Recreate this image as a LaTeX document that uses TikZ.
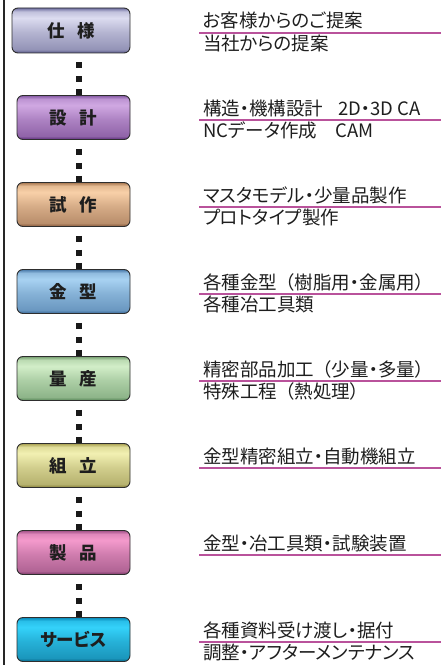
\documentclass[tikz,border=0pt]{standalone}
\usepackage{fontspec}
\setmainfont{Noto Sans CJK JP}[RawFeature=+palt]
\definecolor{ink}{HTML}{1E1E1E}
\definecolor{ulc}{HTML}{B9529B}
\definecolor{bord}{HTML}{2E2E2E}
\newcommand\mkshade[4]{\definecolor{#1t}{HTML}{#2}\definecolor{#1l}{HTML}{#3}\definecolor{#1d}{HTML}{#4}%
 \colorlet{#1a}{#1d!55!#1l}\colorlet{#1m}{#1l!70!#1d}\colorlet{#1b}{#1l!75!#1t}%
 \pgfdeclareverticalshading{#1}{100bp}{color(0bp)=(#1d); color(25bp)=(#1d); color(29bp)=(#1a); color(48bp)=(#1m); color(64bp)=(#1l); color(71bp)=(#1b); color(75bp)=(#1t); color(100bp)=(#1t)}}
\mkshade{shA}{6E6EA0}{DCDCF0}{585888}
\mkshade{shB}{8558A4}{D0A8E2}{5C2C7A}
\mkshade{shC}{A87850}{F8D0A8}{86583A}
\mkshade{shD}{4878A8}{A8D2F2}{386898}
\mkshade{shE}{76A070}{D2EEC8}{568656}
\mkshade{shF}{A8A050}{F2F0B2}{868038}
\mkshade{shG}{A05088}{F49ACC}{7A3868}
\mkshade{shH}{0888B8}{34D2FA}{06668A}
\newcommand\opp{\kern.45em（}
\tikzset{
 stepbox/.style={draw=bord, line width=0.9pt, rounded corners=6pt, minimum height=44pt, minimum width=113pt, inner sep=0pt, font=\fontsize{17.5}{19}\selectfont\bfseries, text=ink},
 dotline/.style={line width=6pt, draw=black!90, dash pattern=on 0pt off 9pt on 6pt off 8pt on 6pt off 7pt on 20pt},
 desc/.style={anchor=base west, inner sep=0pt, font=\fontsize{18.5}{20}\selectfont, text=ink},
 ul/.style={draw=ulc, line width=1.3pt},
 edgeline/.style={line width=2.2pt, draw=black!85}
}
\begin{document}
\begin{tikzpicture}[x=1pt,y=-1pt]
\useasboundingbox (0,0) rectangle (446,669);
\coordinate (lt) at (4,0);
\coordinate (lb) at (4,665);
\coordinate (dx) at (79,0);
\draw[edgeline] (lt) -- (lb);
% boxes
\node[stepbox, shading=shA, minimum width=118pt, minimum height=45pt] (b1) at (71,30.5) {仕\hspace{.7em}様};
\node[stepbox, shading=shB] (b2) at (73.5,117.5) {設\hspace{.7em}計};
\node[stepbox, shading=shC] (b3) at (73.5,204.5) {試\hspace{.7em}作};
\node[stepbox, shading=shD] (b4) at (73.5,291.5) {金\hspace{.7em}型};
\node[stepbox, shading=shE] (b5) at (73.5,378.5) {量\hspace{.7em}産};
\node[stepbox, shading=shF] (b6) at (73.5,465.5) {組\hspace{.7em}立};
\node[stepbox, shading=shG] (b7) at (73.5,552.5) {製\hspace{.7em}品};
\node[stepbox, shading=shH] (b8) at (73.5,639.5) {サービス};
% dotted connectors
\draw[dotline] (b1.south -| dx) -- (b2.north -| dx);
\draw[dotline] (b2.south -| dx) -- (b3.north -| dx);
\draw[dotline] (b3.south -| dx) -- (b4.north -| dx);
\draw[dotline] (b4.south -| dx) -- (b5.north -| dx);
\draw[dotline] (b5.south -| dx) -- (b6.north -| dx);
\draw[dotline] (b6.south -| dx) -- (b7.north -| dx);
\draw[dotline] (b7.south -| dx) -- (b8.north -| dx);
% underlines
\draw[ul] (199,33) -- (441,33);
\draw[ul] (199,120) -- (441,120);
\draw[ul] (199,207) -- (441,207);
\draw[ul] (199,294) -- (441,294);
\draw[ul] (199,381) -- (441,381);
\draw[ul] (199,468) -- (441,468);
\draw[ul] (199,555) -- (441,555);
\draw[ul] (199,642) -- (441,642);
% texts
\node[desc] (t1a) at (203,28) {お客様からのご提案};
\node[desc] (t1b) at (203,50.5) {当社からの提案};
\node[desc] (t2a) at (203,115) {構造・機構設計\hspace{0.8em}2D・3D CA};
\node[desc] (t2b) at (203,137.5) {NCデータ作成\hspace{1em}CAM};
\node[desc] (t3a) at (203,202) {マスタモデル・少量品製作};
\node[desc] (t3b) at (203,224.5) {プロトタイプ製作};
\node[desc] (t4a) at (203,289) {各種金型\opp 樹脂用・金属用）};
\node[desc] (t4b) at (203,311.5) {各種冶工具類};
\node[desc] (t5a) at (203,376) {精密部品加工\opp 少量・多量）};
\node[desc] (t5b) at (203,398.5) {特殊工程\opp 熱処理）};
\node[desc] (t6a) at (203,463) {金型精密組立・自動機組立};
\node[desc] (t7a) at (203,550) {金型・冶工具類・試験装置};
\node[desc] (t8a) at (203,637) {各種資料受け渡し・据付};
\node[desc] (t8b) at (203,659.5) {調整・アフターメンテナンス};
\end{tikzpicture}
\end{document}
